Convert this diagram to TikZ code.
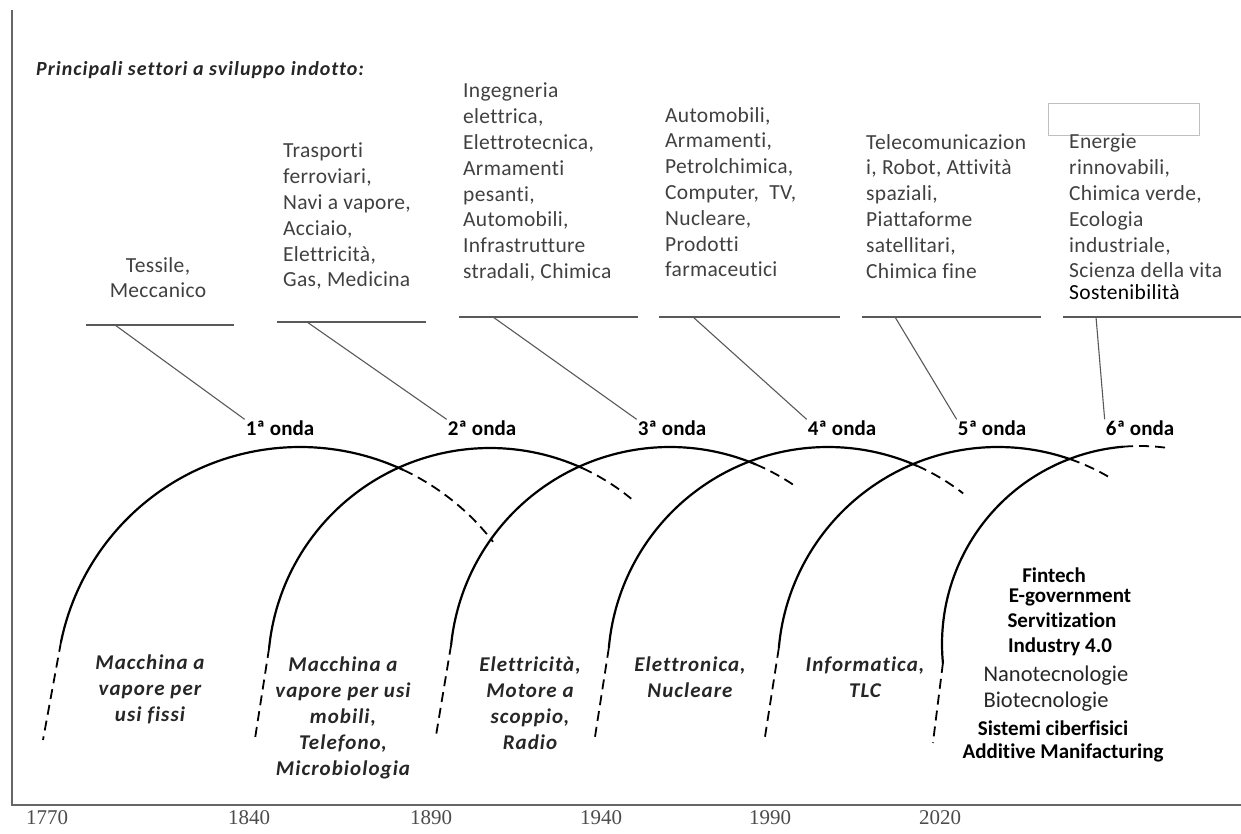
\documentclass[tikz,border=0pt]{standalone}
\usepackage{fontspec}
\setmainfont{Carlito}[Ligatures=NoCommon]
\newfontfamily\yearfont{Liberation Serif}

\begin{document}
\begin{tikzpicture}[x=1pt,y=1pt,
      wave/.style={line width=2.2pt},
      tail/.style={line width=1.8pt,dash pattern=on 10pt off 6pt},
      shelf/.style={line width=2pt,black!65},
      link/.style={line width=1.1pt,black!65},
      sector/.style={font=\fontsize{21.5}{25.8}\selectfont\addfontfeature{LetterSpace=1.5},align=left,anchor=north west,inner sep=0pt,text=black!75},
      inno/.style={font=\fontsize{21}{25.8}\selectfont\bfseries\itshape\addfontfeature{LetterSpace=5},align=center,anchor=north,inner sep=0pt,text=black!85},
      onda/.style={font=\fontsize{21}{25}\selectfont\bfseries,inner sep=1pt},
      tech/.style={font=\fontsize{21}{25}\selectfont\bfseries,anchor=base,inner sep=0pt},
      year/.style={font=\fontsize{21}{25}\selectfont\yearfont,anchor=base,inner sep=0pt,text=black!70}]
      \useasboundingbox (0,0) rectangle (1241,834);
      % frame
      \draw[line width=2.5pt,black!60] (12,824) -- (12,29) -- (1241,29);
      \node[font=\fontsize{20}{24}\selectfont\bfseries\itshape\addfontfeature{LetterSpace=5},anchor=base west,inner sep=0pt,text=black!85] (title) at (36,758) {Principali settori a sviluppo indotto:};
      \draw[black!25,line width=0.8pt] (1048,731) rectangle (1199,699);
      % sectors
      \node[sector,align=center,anchor=north] (sec1) at (158,577) {Tessile,\\Meccanico};
      \node[sector] (sec2) at (283,691) {Trasporti\\ferroviari,\\Navi a vapore,\\Acciaio,\\Elettricità,\\Gas, Medicina};
      \node[sector] (sec3) at (463,751) {Ingegneria\\elettrica,\\Elettrotecnica,\\Armamenti\\pesanti,\\Automobili,\\Infrastrutture\\stradali, Chimica};
      \node[sector] (sec4) at (665,727) {Automobili,\\Armamenti,\\Petrolchimica,\\Computer,~ TV,\\Nucleare,\\Prodotti\\farmaceutici};
      \node[sector] (sec5) at (866,700) {Telecomunicazion\\i, Robot, Attività\\spaziali,\\Piattaforme\\satellitari,\\Chimica fine};
      \node[sector] (sec6) at (1069,700) {Energie\\rinnovabili,\\Chimica verde,\\Ecologia\\industriale,\\Scienza della vita\\[-4pt]{\color{black}Sostenibilità}};
      % shelves
      \draw[shelf] (86,509) -- (234,509);
      \draw[shelf] (277,512) -- (426,512);
      \draw[shelf] (459,517) -- (638,517);
      \draw[shelf] (659,517) -- (840,517);
      \draw[shelf] (862,517) -- (1041,517);
      \draw[shelf] (1063,517) -- (1241,517);
      \coordinate (s1) at (115,509);
      \coordinate (s2) at (307,512);
      \coordinate (s3) at (493,517);
      \coordinate (s4) at (693,517);
      \coordinate (s5) at (895,517);
      \coordinate (s6) at (1096,517);
      % wave labels
      \node[onda] (w1) at (280,406) {1ª onda};
      \node[onda] (w2) at (482,406) {2ª onda};
      \node[onda] (w3) at (672,406) {3ª onda};
      \node[onda] (w4) at (842,406) {4ª onda};
      \node[onda] (w5) at (992,406) {5ª onda};
      \node[onda] (w6) at (1140,406) {6ª onda};
      \draw[link] (s1) -- (w1.north west);
      \draw[link] (s2) -- (w2.north west);
      \draw[link] (s3) -- (w3.north west);
      \draw[link] (s4) -- (w4.north west);
      \draw[link] (s5) -- (w5.north west);
      \draw[link] (s6) -- (w6.north west);
      % 1a onda
      \coordinate (c1) at (300,143);
      \draw[wave] (c1) ++(168.4:244) arc[start angle=168.4,end angle=64.9,radius=244];
      \draw[tail] (c1) ++(64.9:244) arc[start angle=64.9,end angle=37.7,radius=244];
      \draw[tail] (c1) ++(168.4:244) -- ++(-18,-98);
      % 2a onda
      \coordinate (c2) at (490,164);
      \draw[wave] (c2) ++(174.3:222) arc[start angle=174.3,end angle=65.3,radius=222];
      \draw[tail] (c2) ++(65.3:222) arc[start angle=65.3,end angle=50.5,radius=222];
      \draw[tail] (c2) ++(174.3:222) -- ++(-14,-90);
      % 3a onda
      \coordinate (c3) at (670,167);
      \draw[wave] (c3) ++(174.2:220) arc[start angle=174.2,end angle=67,radius=220];
      \draw[tail] (c3) ++(67:220) arc[start angle=67,end angle=55.1,radius=220];
      \draw[tail] (c3) ++(174.2:220) -- ++(-15,-90);
      % 4a onda
      \coordinate (c4) at (828,167);
      \draw[wave] (c4) ++(175:220) arc[start angle=175,end angle=66.1,radius=220];
      \draw[tail] (c4) ++(66.1:220) arc[start angle=66.1,end angle=52.1,radius=220];
      \draw[tail] (c4) ++(175:220) -- ++(-14,-90);
      % 5a onda
      \coordinate (c5) at (998,167);
      \draw[wave] (c5) ++(175:220) arc[start angle=175,end angle=70.9,radius=220];
      \draw[tail] (c5) ++(70.9:220) arc[start angle=70.9,end angle=60,radius=220];
      \draw[tail] (c5) ++(175:220) -- ++(-14,-90);
      % 6a onda
      \coordinate (c6) at (1140,190);
      \draw[wave] (c6) ++(185.5:198) arc[start angle=185.5,end angle=94.9,radius=198];
      \draw[tail] (c6) ++(94.9:198) arc[start angle=94.9,end angle=81.7,radius=198];
      \draw[tail] (c6) ++(185.5:198) -- ++(-10,-80);
      % innovations
      \node[inno] (i1) at (150,179) {Macchina a\\vapore per\\usi fissi};
      \node[inno] (i2) at (343,177) {Macchina a\\vapore per usi\\mobili,\\Telefono,\\Microbiologia};
      \node[inno] (i3) at (530,177) {Elettricità,\\Motore a\\scoppio,\\Radio};
      \node[inno] (i4) at (690,177) {Elettronica,\\Nucleare};
      \node[inno] (i5) at (865,177) {Informatica,\\TLC};
      \node[tech] (t1) at (1054,251) {Fintech};
      \node[tech] (t2) at (1070,231) {E-government};
      \node[tech] (t3) at (1062,206) {Servitization};
      \node[tech] (t4) at (1060,181) {Industry 4.0};
      \node[tech,font=\fontsize{22.5}{25}\selectfont,text=black!85] (t5) at (1056,152) {Nanotecnologie};
      \node[tech,font=\fontsize{22.5}{25}\selectfont,text=black!85] (t6) at (1046,126) {Biotecnologie};
      \node[tech] (t7) at (1053,98) {Sistemi ciberfisici};
      \node[tech] (t8) at (1063,75) {Additive Manifacturing};
      % years
      \node[year] (y1) at (47,9) {1770};
      \node[year] (y2) at (249,9) {1840};
      \node[year] (y3) at (431,9) {1890};
      \node[year] (y4) at (601,9) {1940};
      \node[year] (y5) at (770,9) {1990};
      \node[year] (y6) at (940,9) {2020};
    \end{tikzpicture}
\end{document}
